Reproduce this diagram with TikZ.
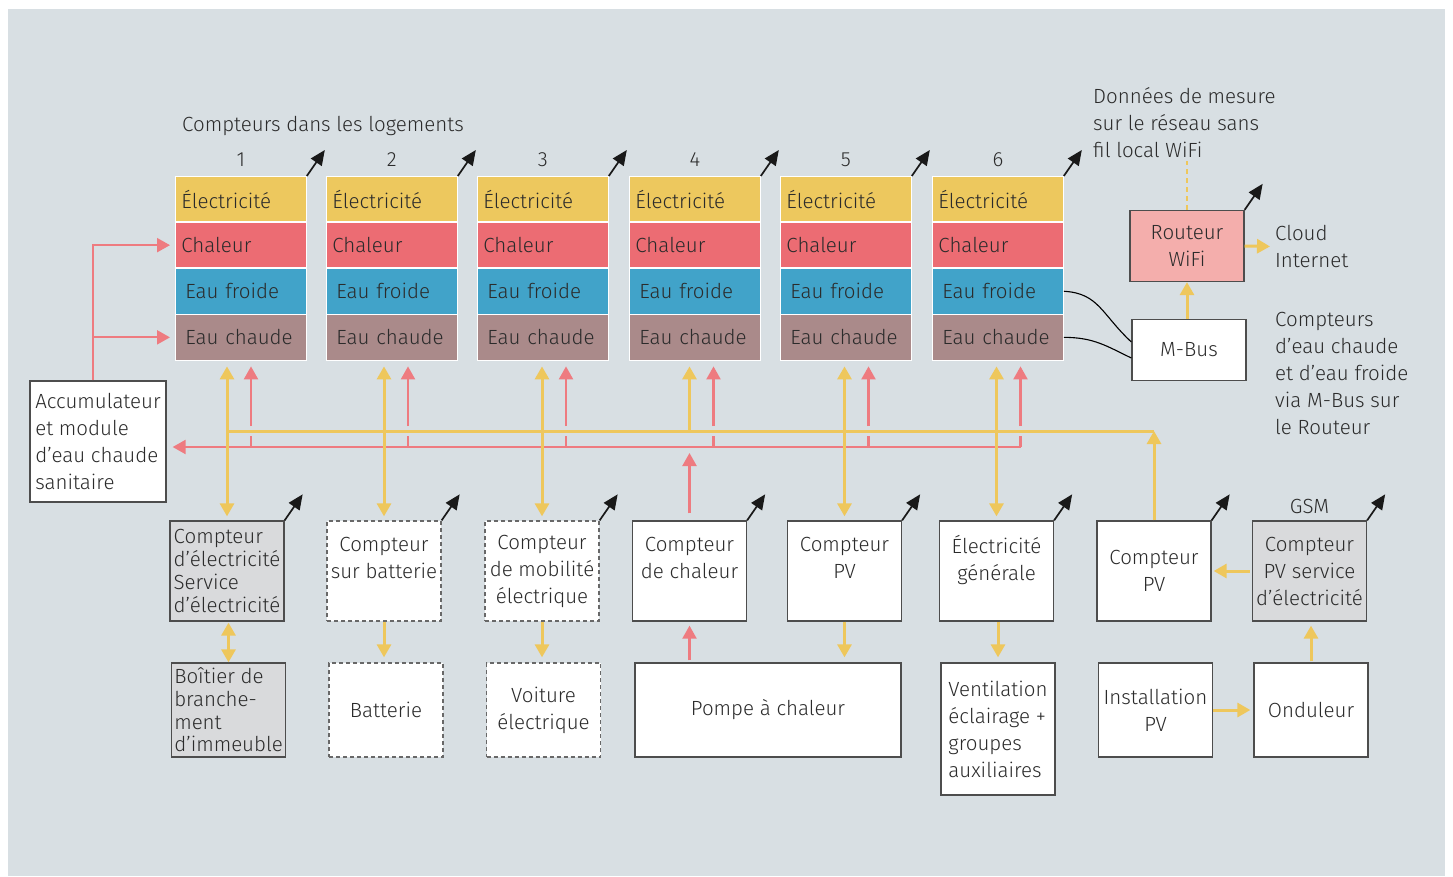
\documentclass[tikz,border=0pt]{standalone}
\usepackage{fontspec}
\IfFontExistsTF{Fira Sans Light}{\setmainfont{Fira Sans Light}}{\setmainfont{Fira Sans}}
\usetikzlibrary{positioning,calc,arrows.meta}
\definecolor{bg}{HTML}{D8DFE3}
\definecolor{elec}{HTML}{EDC85E}
\definecolor{heat}{HTML}{EC6C73}
\definecolor{cold}{HTML}{41A3C9}
\definecolor{hot}{HTML}{AA8A8A}
\definecolor{rfill}{HTML}{F4AEAC}
\definecolor{gfill}{HTML}{D9DADC}
\definecolor{yel}{HTML}{EEC75C}
\definecolor{pnk}{HTML}{EE7B80}
\definecolor{frame}{HTML}{4D4D4D}
\definecolor{txt}{HTML}{2B2B2B}
\begin{document}
\begin{tikzpicture}[x=1pt,y=-1pt,
    every node/.style={inner sep=3pt, text=txt, font=\fontsize{20.5}{27}\selectfont},
    cell/.style={minimum width=131pt, minimum height=45.3pt, text width=119pt, inner xsep=6pt, inner ysep=0pt, align=left, draw=white, line width=0.8pt},
    box/.style={draw=frame, line width=1.3pt, fill=white, minimum width=114pt, minimum height=100pt, align=center},
    gbox/.style={box, fill=gfill},
    dbox/.style={box, draw=frame!85, dash pattern=on 4pt off 3pt},
    elink/.style={draw=yel, line width=3pt},
    plink/.style={draw=pnk, line width=2.2pt},
    wlink/.style={draw=black!90, line width=1.7pt, -{Triangle[length=15pt,width=13pt]}},
    sgl/.style={-{Triangle[length=13pt,width=14pt]}},
    dbl/.style={{Triangle[length=13pt,width=14pt]}-{Triangle[length=13pt,width=14pt]}}]
    \useasboundingbox (0,0) rectangle (1453,876);
    \fill[bg] (8,9) rectangle (1445,876);
    % compteurs des logements
    \node[anchor=west] (title) at (179,126) {Compteurs dans les logements};
    \foreach \i/\x in {1/175,2/326,3/477,4/629,5/780,6/932} {
        \node[cell, fill=elec, anchor=north west] (e\i) at (\x,176) {Électricité};
        \node[cell, fill=heat, below=0pt of e\i] (c\i) {Chaleur};
        \node[cell, fill=cold, below=0pt of c\i] (f\i) {\hspace{4pt}Eau froide};
        \node[cell, fill=hot, below=0pt of f\i] (h\i) {\hspace{4pt}Eau chaude};
        \node (n\i) at ($(e\i.north)+(0,-16)$) {\i};
        \draw[wlink] (e\i.north east) -- ++(18,-26);
    }
    \node[box, align=left, minimum width=136pt, minimum height=121pt] (acc) at (98,441.5) {Accumulateur\\et module\\d’eau chaude\\sanitaire};
    % compteurs du batiment
    \node[gbox, align=left, font=\fontsize{20.5}{22.7}\selectfont] (b1) at (227,571) {Compteur\\d’électricité\\Service\\d’électricité};
    \node[dbox] (b2) at (384,571) {Compteur\\sur batterie\\\mbox{}};
    \node[dbox] (b3) at (542,571) {Compteur\\de mobilité\\électrique};
    \node[box] (b4) at (689.5,571) {Compteur\\de chaleur\\\mbox{}};
    \node[box] (b5) at (844.5,571) {Compteur\\PV\\\mbox{}};
    \node[box] (b6) at (996.5,571) {Électricité\\générale\\\mbox{}};
    \node[box] (b7) at (1154,571) {Compteur\\PV};
    \node[gbox] (b8) at (1309.5,571) {Compteur\\PV service\\d’électricité};
    \node (gsm) at ($(b8.north)+(0,-14)$) {GSM};
    \foreach \b in {b1,b2,b3,b4,b5,b6,b7,b8}
        \draw[wlink] (\b.north east) -- ++(18,-26);
    % installations
    \node[gbox, align=left, minimum height=94pt, font=\fontsize{20.5}{22.7}\selectfont] (c1b) at (228.5,710) {Boîtier de\\branche-\\ment\\d’immeuble};
    \node[dbox, minimum height=94pt] (c2b) at (386,710) {Batterie};
    \node[dbox, minimum height=94pt] (c3b) at (543.5,710) {Voiture\\électrique};
    \node[box, minimum width=266pt, minimum height=94pt] (c4b) at (768,710) {Pompe à chaleur};
    \node[box, align=left, minimum height=132pt] (c5b) at (998,729) {Ventilation\\éclairage +\\groupes\\auxiliaires};
    \node[box, minimum height=94pt] (c6b) at (1155.5,710) {Installation\\PV};
    \node[box, minimum height=94pt] (c7b) at (1311,710) {Onduleur};
    % routeur
    \node[box, fill=rfill, minimum height=71pt] (rt) at (1187,246) {Routeur\\WiFi};
    \node[box, minimum height=61pt] (mbus) at (1189,350) {M-Bus};
    \node[anchor=west, align=left] (wifi) at (1090,123) {Données de mesure\\sur le réseau sans\\fil local WiFi};
    \node[anchor=west, align=left] (cloud) at (1272,246.5) {Cloud\\Internet};
    \node[anchor=west, align=left] (note) at (1272,373.5) {Compteurs\\d’eau chaude\\et d’eau froide\\via M-Bus sur\\le Routeur};
    \draw[wlink] (rt.north east) -- ++(18,-26);
    \draw[elink, line width=2.2pt, dash pattern=on 5pt off 4pt] (rt.north) -- (rt.north |- wifi.south);
    \draw[elink, sgl] (mbus.north -| rt.south) -- (rt.south);
    \draw[elink, sgl, shorten >=2pt] (rt.east) -- (cloud.west);
    \draw[line width=1.1pt] (f6.east) .. controls +(35,2) and +(-30,-28) .. ([yshift=8pt]mbus.west);
    \draw[line width=1.1pt] (h6.east) .. controls +(30,0) and +(-25,-12) .. ([yshift=-8pt]mbus.west);
    % bus electricite et chaleur
    \coordinate (ybus) at (0,431);
    \coordinate (pbus) at (0,447);
    \draw[plink, sgl, shorten >=5pt] ([xshift=-5pt]acc.north) |- (c1.west);
    \draw[plink, sgl, shorten >=5pt] ([xshift=-5pt]acc.north |- h1.west) -- (h1.west);
    \foreach \b/\i in {b1/1,b2/2,b3/3,b4/4,b5/5,b6/6} {
        \draw[plink] ($(\b.north |- pbus)+(24,0)$) -- ++(0,-11);
        \draw[plink, sgl, shorten >=6pt] ($(\b.north |- ybus)+(24,-5)$) -- ($(\b.north |- h\i.south)+(24,0)$);
    }
    \draw[plink, sgl, shorten >=6pt] ($(b6.north |- pbus)+(24,0)$) -- (acc.east |- pbus);
    \draw[elink] (b1.north |- ybus) -- (b7.north |- ybus);
    \foreach \b/\i in {b1/1,b2/2,b3/3,b5/5,b6/6}
        \draw[elink, dbl, shorten <=4pt, shorten >=6pt] (\b.north) -- (\b.north |- h\i.south);
    \draw[elink, sgl, shorten >=6pt] (b4.north |- ybus) -- (b4.north |- h4.south);
    \draw[elink, sgl] (b7.north) -- (b7.north |- ybus);
    \draw[plink, sgl, shorten <=7pt, shorten >=6pt] (b4.north) -- (b4.north |- pbus);
    % liaisons du bas
    \draw[elink, dbl, shorten <=1pt] (b1.south -| c1b.north) -- (c1b.north);
    \draw[elink, sgl, shorten >=5pt] (b2.south) -- (b2.south |- c2b.north);
    \draw[elink, sgl, shorten >=5pt] (b3.south) -- (b3.south |- c3b.north);
    \draw[plink, sgl, shorten <=2pt, shorten >=4pt] (b4.south |- c4b.north) -- (b4.south);
    \draw[elink, sgl, shorten >=5pt] (b5.south) -- (b5.south |- c4b.north);
    \draw[elink, sgl, shorten >=5pt] (c5b.north |- b6.south) -- (c5b.north);
    \draw[elink, sgl, shorten >=3pt] (c6b.east) -- (c7b.west);
    \draw[elink, sgl, shorten <=1pt, shorten >=4pt] (c7b.north) -- (c7b.north |- b8.south);
    \draw[elink, sgl, shorten <=2pt, shorten >=2pt] (b8.west) -- (b7.east);
\end{tikzpicture}
\end{document}
